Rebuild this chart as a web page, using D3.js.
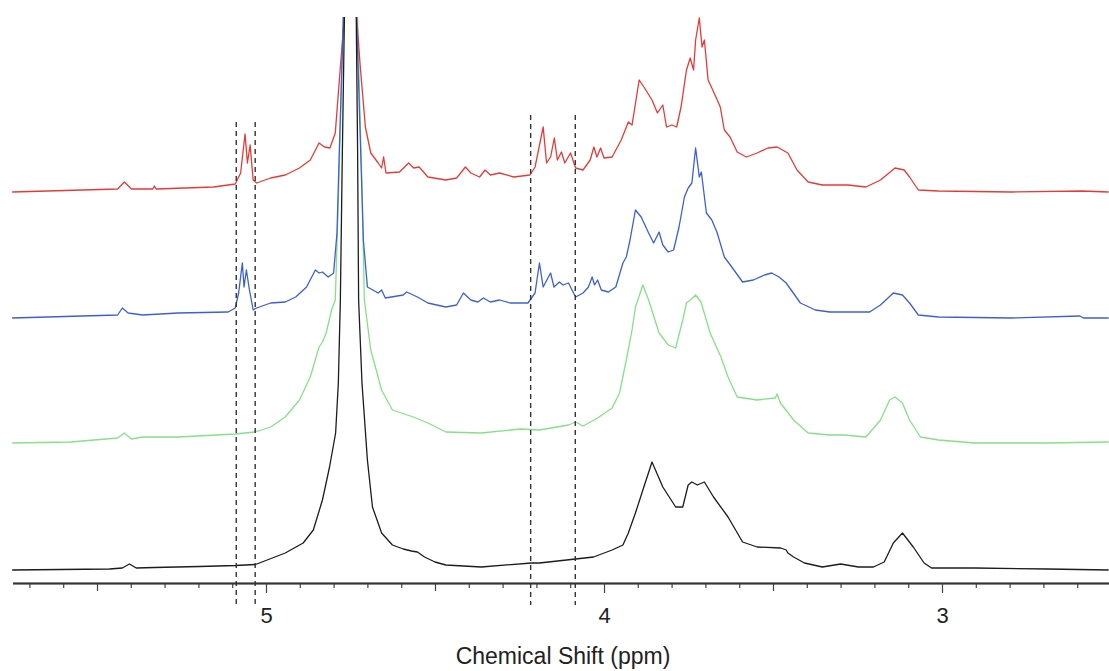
<!DOCTYPE html>
<html>
<head>
<meta charset="utf-8">
<script src="https://cdn.jsdelivr.net/npm/d3@7/dist/d3.min.js"></script>
<style>
  html, body { margin: 0; padding: 0; background: #fff; }
  svg { display: block; }
</style>
</head>
<body>
<div id="chart"></div>
<script>
// spectra as [ppm, intensity (a.u.)]
var blackSpec = [
  [5.751, 0], [5.463, 1], [5.425, 2], [5.404, 6], [5.384, 2], [5.330, 2.5], [5.197, 3.5],
  [5.090, 4.5], [5.031, 5.5], [4.943, 17], [4.890, 27], [4.860, 40], [4.833, 70], [4.812, 103],
  [4.794, 137], [4.786, 187], [4.780, 270], [4.774, 420], [4.768, 553], [4.750, 3000],
  [4.733, 553], [4.729, 420], [4.726, 270], [4.716, 187], [4.700, 110], [4.685, 63], [4.658, 37],
  [4.626, 25], [4.594, 21], [4.570, 19], [4.552, 18], [4.531, 13], [4.500, 8], [4.468, 5],
  [4.363, 3], [4.215, 7], [4.191, 7], [4.084, 11], [4.031, 13], [3.976, 20], [3.944, 25],
  [3.928, 37], [3.907, 57], [3.885, 80], [3.858, 108], [3.826, 83], [3.788, 63], [3.767, 63],
  [3.751, 85], [3.740, 88], [3.724, 85], [3.703, 88], [3.676, 73], [3.633, 53], [3.590, 28],
  [3.547, 23], [3.477, 22], [3.461, 20], [3.456, 17], [3.439, 13], [3.407, 7], [3.354, 3],
  [3.300, 6], [3.247, 3], [3.203, 3], [3.171, 8], [3.144, 27], [3.117, 37], [3.085, 23],
  [3.053, 7], [3.031, 2], [2.904, 2], [2.688, 1], [2.507, 0]
];

var greenSpec = [
  [5.751, 0], [5.578, 1], [5.439, 5], [5.419, 10], [5.398, 4], [5.365, 6], [5.260, 6],
  [5.091, 9], [5.033, 11], [4.986, 16], [4.943, 26], [4.901, 43], [4.869, 66], [4.843, 96],
  [4.833, 101], [4.822, 110], [4.806, 133], [4.795, 143], [4.786, 243], [4.778, 343],
  [4.772, 426], [4.750, 2500], [4.729, 426], [4.723, 343], [4.715, 243], [4.709, 143],
  [4.690, 93], [4.658, 53], [4.626, 33], [4.564, 26], [4.521, 20], [4.468, 11], [4.363, 10],
  [4.247, 14], [4.191, 13], [4.105, 18], [4.084, 21], [4.062, 17], [4.019, 25], [3.976, 35],
  [3.954, 50], [3.934, 83], [3.917, 113], [3.907, 136], [3.885, 158], [3.868, 143],
  [3.837, 110], [3.810, 98], [3.788, 95], [3.767, 123], [3.756, 140], [3.744, 143],
  [3.729, 148], [3.713, 141], [3.686, 110], [3.654, 86], [3.633, 66], [3.606, 46], [3.547, 43],
  [3.493, 45], [3.488, 49], [3.478, 40], [3.439, 23], [3.396, 10], [3.333, 8], [3.289, 8],
  [3.225, 6], [3.182, 23], [3.155, 43], [3.139, 46], [3.117, 40], [3.096, 23], [3.064, 6],
  [3.010, 3], [2.904, 0], [2.688, 0], [2.507, 1]
];

var blueSpec = [
  [5.751, 0], [5.439, 3], [5.425, 10], [5.408, 5], [5.365, 3], [5.260, 5], [5.112, 6],
  [5.091, 10], [5.081, 25], [5.070, 55], [5.065, 31], [5.058, 48], [5.049, 28], [5.038, 8],
  [5.028, 10], [4.986, 15], [4.943, 16], [4.912, 21], [4.880, 31], [4.854, 48], [4.843, 45],
  [4.833, 46], [4.816, 41], [4.800, 45], [4.790, 85], [4.783, 168], [4.771, 301], [4.750, 2800],
  [4.732, 301], [4.720, 168], [4.712, 78], [4.700, 31], [4.668, 25], [4.658, 28], [4.647, 20],
  [4.594, 23], [4.584, 26], [4.552, 21], [4.521, 15], [4.468, 11], [4.436, 13], [4.416, 25],
  [4.394, 18], [4.373, 16], [4.357, 20], [4.336, 16], [4.309, 18], [4.278, 15], [4.225, 15],
  [4.204, 25], [4.191, 55], [4.180, 31], [4.158, 45], [4.148, 31], [4.132, 36], [4.121, 33],
  [4.105, 35], [4.084, 21], [4.062, 25], [4.046, 31], [4.035, 41], [4.028, 33], [4.019, 38],
  [4.008, 28], [3.987, 26], [3.965, 31], [3.944, 55], [3.934, 61], [3.923, 78], [3.907, 108],
  [3.890, 101], [3.868, 85], [3.853, 75], [3.837, 86], [3.826, 73], [3.810, 66], [3.794, 68],
  [3.778, 91], [3.762, 121], [3.751, 130], [3.740, 135], [3.729, 170], [3.718, 141],
  [3.712, 146], [3.697, 105], [3.681, 98], [3.665, 85], [3.644, 61], [3.622, 51], [3.590, 36],
  [3.558, 38], [3.525, 43], [3.504, 45], [3.482, 41], [3.461, 35], [3.419, 15], [3.375, 8],
  [3.332, 6], [3.268, 6], [3.214, 6], [3.182, 13], [3.144, 25], [3.117, 23], [3.096, 15],
  [3.070, 3], [3.010, 1], [2.795, 0], [2.592, 2], [2.582, 0], [2.507, 0]
];

var redSpec = [
  [5.751, -1], [5.439, 2], [5.419, 9], [5.398, 2], [5.335, 2], [5.330, 5], [5.325, 2],
  [5.155, 4], [5.091, 7], [5.075, 18], [5.062, 57], [5.055, 28], [5.047, 46], [5.038, 11],
  [5.028, 8], [4.986, 13], [4.943, 16], [4.901, 23], [4.869, 31], [4.843, 48], [4.827, 44],
  [4.811, 43], [4.795, 58], [4.780, 124], [4.768, 174], [4.750, 2600], [4.732, 174],
  [4.721, 124], [4.706, 64], [4.690, 38], [4.668, 28], [4.658, 23], [4.652, 34], [4.645, 18],
  [4.605, 19], [4.578, 28], [4.563, 23], [4.547, 24], [4.521, 14], [4.468, 11], [4.436, 13],
  [4.410, 24], [4.394, 18], [4.368, 14], [4.352, 21], [4.336, 16], [4.309, 18], [4.267, 14],
  [4.219, 16], [4.204, 24], [4.180, 64], [4.170, 28], [4.158, 34], [4.147, 53], [4.138, 31],
  [4.126, 39], [4.116, 28], [4.099, 38], [4.084, 23], [4.062, 21], [4.041, 31], [4.030, 44],
  [4.021, 34], [4.010, 43], [4.000, 33], [3.976, 34], [3.949, 51], [3.928, 69], [3.917, 66],
  [3.896, 111], [3.880, 103], [3.858, 91], [3.842, 78], [3.826, 86], [3.815, 64], [3.799, 66],
  [3.785, 64], [3.772, 84], [3.756, 121], [3.745, 133], [3.735, 121], [3.729, 151],
  [3.718, 173], [3.710, 144], [3.703, 151], [3.692, 111], [3.681, 103], [3.665, 91],
  [3.656, 84], [3.644, 61], [3.627, 54], [3.606, 39], [3.579, 34], [3.547, 38], [3.515, 43],
  [3.488, 44], [3.472, 41], [3.456, 38], [3.429, 21], [3.396, 9], [3.354, 6], [3.278, 6],
  [3.225, 4], [3.182, 11], [3.139, 23], [3.112, 21], [3.096, 14], [3.070, 1], [3.010, 0],
  [2.795, -1], [2.586, 0], [2.507, -1]
];

// vertical stacking offset of each trace (a.u.)
var traceOffsets = { black: 0, green: 127, blue: 252, red: 379 };

// dashed marker positions (ppm)
var markerPpm = [5.088, 5.032, 4.217, 4.085];

var majorTicks = [5, 4, 3];
var halfTicks = [5.5, 4.5, 3.5];
var minorTicks = d3.range(26, 58).map(d => d / 10).filter(d => d % 0.5 !== 0 && Math.abs(d * 2 - Math.round(d * 2)) > 0.01);

var width = 1109, height = 671;

var svg = d3.select('#chart').append('svg')
  .attr('width', width)
  .attr('height', height);

var xScale = d3.scaleLinear().domain([5.75, 2.5]).range([12.5, 1111]);
var yScale = d3.scaleLinear().domain([0, 553]).range([570, 17]);

svg.append('clipPath').attr('id', 'plotclip')
  .append('rect').attr('x', 0).attr('y', 17).attr('width', width).attr('height', 580);

var line = d3.line()
  .x(d => xScale(d[0]))
  .y(d => yScale(d[1] + d.off));

var traces = [
  { name: 'green', data: greenSpec, color: '#86e087' },
  { name: 'red', data: redSpec, color: '#e53b36' },
  { name: 'blue', data: blueSpec, color: '#3e5fd4' },
  { name: 'black', data: blackSpec, color: '#1c1c1c' }
];

var plot = svg.append('g').attr('clip-path', 'url(#plotclip)');

traces.forEach(function(t) {
  var pts = t.data.map(function(p) {
    var q = [p[0], p[1]];
    q.off = traceOffsets[t.name];
    return q;
  });
  plot.append('path')
    .datum(pts)
    .attr('fill', 'none')
    .attr('stroke', t.color)
    .attr('stroke-width', 1.3)
    .attr('stroke-linejoin', 'round')
    .attr('d', line);
});

// dashed markers
svg.append('g').selectAll('line')
  .data(markerPpm)
  .enter().append('line')
  .attr('x1', d => xScale(d))
  .attr('x2', d => xScale(d))
  .attr('y1', (d, i) => yScale(i < 2 ? 448 : 455))
  .attr('y2', yScale(-35))
  .attr('stroke', '#333')
  .attr('stroke-width', 1.4)
  .attr('stroke-dasharray', '5,4');

// x axis
var axisY = 583;
var axisG = svg.append('g').attr('transform', 'translate(0,' + axisY + ')');

axisG.append('g')
  .call(d3.axisBottom(xScale).tickValues(minorTicks).tickSize(5).tickSizeOuter(0).tickFormat(''));
axisG.append('g')
  .call(d3.axisBottom(xScale).tickValues(halfTicks).tickSize(8).tickSizeOuter(0).tickFormat(''));
axisG.append('g')
  .call(d3.axisBottom(xScale).tickValues(majorTicks).tickSize(10).tickSizeOuter(0)
    .tickFormat(d => d.toString()).tickPadding(14));

axisG.selectAll('.domain').attr('stroke', '#333').attr('stroke-width', 1.6);
axisG.selectAll('.tick line').attr('stroke', '#444').attr('stroke-width', 1.2);
axisG.selectAll('.tick text')
  .attr('fill', '#222')
  .style('font-family', 'Liberation Sans, Arial, sans-serif')
  .style('font-size', '22px');

svg.append('text')
  .attr('x', 563)
  .attr('y', 664)
  .attr('text-anchor', 'middle')
  .attr('fill', '#222')
  .style('font-family', 'Liberation Sans, Arial, sans-serif')
  .style('font-size', '23px')
  .text('Chemical Shift (ppm)');
</script>
</body>
</html>
